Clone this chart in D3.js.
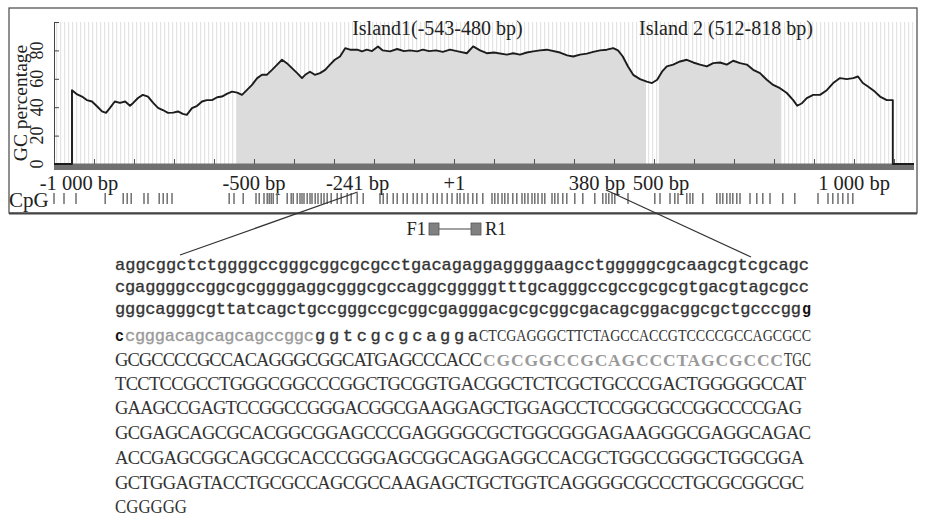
<!DOCTYPE html>
<html>
<head>
<meta charset="UTF-8">
<title>GC content and CpG islands</title>
<script src="https://cdn.jsdelivr.net/npm/d3@7"></script>
<style>
  body { margin: 0; background: #fff; }
  text { font-family: "Liberation Serif", "Times New Roman", serif; fill: #222; }
  .lo { font-family: "Liberation Mono", monospace; font-size: 17px; fill: #333; stroke: #333; stroke-width: 0.35; }
  .lb { font-family: "Liberation Mono", monospace; font-size: 17px; font-weight: bold; fill: #111; }
  .lp { font-family: "Liberation Mono", monospace; font-size: 17px; fill: #9a9a9a; stroke: #9a9a9a; stroke-width: 0.35; }
  .up { font-size: 18.5px; fill: #333; }
  .us { font-size: 16.5px; fill: #333; }
  .pp { font-size: 17.5px; font-weight: bold; fill: #9a9a9a; }
</style>
</head>
<body>
<script>
// GC percentage profile (position in bp, % GC)
const gcBp = [-1000, -955, -955, -942, -930, -918, -905, -892, -880, -870, -860, -848, -835, -822, -810, -802,
  -790, -778, -765, -752, -740, -728, -715, -702, -690, -678, -668, -655, -642, -630, -618, -605, -592, -580,
  -568, -555, -542, -530, -518, -505, -492, -480, -468, -455, -442, -430, -418, -405, -392, -380, -372, -360,
  -348, -335, -322, -310, -298, -285, -272, -260, -242, -230, -218, -205, -190, -178, -160, -142, -125, -110,
  -92, -78, -62, -45, -28, -10, 10, 32, 48, 65, 82, 100, 132, 148, 165, 182, 198, 215, 232, 265, 283, 298,
  315, 332, 348, 365, 382, 398, 410, 422, 435, 448, 465, 482, 495, 508, 520, 532, 548, 565, 582, 598, 615,
  632, 648, 665, 682, 698, 715, 732, 748, 765, 782, 798, 815, 832, 848, 858, 870, 882, 898, 915, 932, 948,
  965, 982, 998, 1010, 1022, 1035, 1052, 1065, 1082, 1097, 1097, 1150];
const gcPct = [0, 0, 52, 49, 47.5, 45, 44, 40.5, 37, 36, 39.5, 44, 43, 44, 41, 43,
  46.5, 48.7, 47.5, 43, 39.5, 38, 36, 36.2, 37, 35.3, 34.6, 39.3, 41, 44, 45, 45, 47, 47.5,
  49.4, 51, 50.3, 48.7, 52, 55.7, 60.5, 62.8, 62.8, 66.3, 70, 73.4, 71, 67.5, 64, 60.5, 62.8, 65,
  62.8, 64, 66.3, 70, 73.4, 75.7, 81.6, 80.5, 80.5, 79.3, 80.5, 79.5, 82.8, 80, 79.3, 81, 79.5, 80,
  79.3, 80.5, 79.5, 80, 79, 80.5, 79.3, 78, 82.8, 80, 78, 78.5, 77, 78, 77, 78.5, 79.3, 80, 80.5, 78.5, 76.5, 75.7,
  77, 77.7, 79, 80, 80.5, 81.6, 80, 75.7, 68.7, 62.8, 59.8, 58, 57, 59.3, 65, 68.7, 70, 72.2, 73.4, 71.5, 70,
  68.7, 71, 71.5, 70, 72.7, 71, 70, 66.3, 64, 59.3, 55.7, 53.4, 50, 45, 41, 42.8, 46.4, 48.7, 48.7, 52, 57,
  60.5, 59.8, 60.5, 61.6, 57, 54.6, 51, 47.5, 45, 45, 0, 0];

// CpG islands
const islandStart = [-543, 512];
const islandEnd = [480, 818];
const islandLabels = ["Island1(-543-480 bp)", "Island 2 (512-818 bp)"];

// axes
const xTicks = [-1000, -900, -800, -700, -600, -500, -400, -300, -200, -100, 0, 100, 200, 300, 400, 500,
  600, 700, 800, 900, 1000, 1100];
const xLabelBp = [-1000, -500, -241, 1, 380, 500, 1000];
const xLabelText = ["-1 000 bp", "-500 bp", "-241 bp", "+1", "380 bp", "500 bp", "1 000 bp"];
const yTicks = [0, 20, 40, 60, 80, 100];
const yLabels = [0, 20, 40, 60, 80];

// CpG dinucleotide positions (bp)
const cpgBp = [-1000, -975, -945, -872, -827, -817, -807, -775, -765, -737, -727, -717, -705,
  -562, -550, -527, -495, -487, -475, -467, -462, -457, -452, -442, -417, -407, -402, -392, -385, -380,
  -375, -367, -360, -355, -347, -340, -332, -325, -317, -307, -292, -282, -267, -257, -242, -227,
  -185, -177, -167, -152, -142, -127, -117, -102, -92, -80, -67, -52, -42, -30, -17, -5, 8, 15, 25, 35,
  47, 57, 72, 95, 102, 110, 120, 127, 135, 147, 157, 170, 177, 185, 195, 202, 210, 220, 227, 245, 252,
  260, 272, 282, 302, 322, 352, 372, 380, 387, 395, 402, 435,
  502, 515, 540, 552, 560, 582, 590, 597, 622, 657, 665, 672, 682, 690, 697, 707, 715, 740, 757, 772,
  790, 822, 852, 910, 935, 947, 960, 972, 985, 997];

// amplified region and primers
const zoomFrom = -241, zoomTo = 380;
const primerNames = ["F1", "R1"];
const primerBp = [-50, 55];

// sequence lines: [text, style]
const seqLines = [
  [["aggcggctctggggccgggcggcgcgcctgacagaggaggggaagcctgggggcgcaagcgtcgcagc", "lo"]],
  [["cgaggggccggcgcggggaggcgggcgccaggcgggggtttgcagggccgccgcgcgtgacgtagcgcc", "lo"]],
  [["gggcagggcgttatcagctgccgggccgcggcgagggacgcgcggcgacagcggacggcgctgcccgg", "lo"], ["g", "lb"]],
  [["c", "lb"], ["cgggacagcagcagccggc", "lp"], ["ggtcgcgcagga", "lo"], ["CTCGAGGGCTTCTAGCCACCGTCCCCGCCAGCGCC", "us"]],
  [["GCGCCCCGCCACAGGGCGGCATGAGCCCACC", "up"], ["CGCGGCCGCAGCCCTAGCGCCC", "pp"], ["TGC", "up"]],
  [["TCCTCCGCCTGGGCGGCCCGGCTGCGGTGACGGCTCTCGCTGCCCGACTGGGGGCCAT", "up"]],
  [["GAAGCCGAGTCCGGCCGGGACGGCGAAGGAGCTGGAGCCTCCGGCGCCGGCCCCGAG", "up"]],
  [["GCGAGCAGCGCACGGCGGAGCCCGAGGGGCGCTGGCGGGAGAAGGGCGAGGCAGAC", "up"]],
  [["ACCGAGCGGCAGCGCACCCGGGAGCGGCAGGAGGCCACGCTGGCCGGGCTGGCGGA", "up"]],
  [["GCTGGAGTACCTGCGCCAGCGCCAAGAGCTGCTGGTCAGGGGCGCCCTGCGCGGCGC", "up"]],
  [["CGGGGG", "up"]]
];

// layout
const W = 925, H = 530;
const segX = [[115], [115], [115, 802], [115, 125, 315, 479], [115, 483, 784], [115], [115], [115], [115], [115], [115]];
const seqEnd = [810, 810, 812, 812, 812, 807, 803, 812, 805, 805, 188];
const seqBase = [270, 292, 314, 341, 366, 390, 414, 439, 464, 489, 513];

const svg = d3.select("body").append("svg")
  .attr("width", W).attr("height", H);

const defs = svg.append("defs");
defs.append("pattern").attr("id", "stripes")
  .attr("patternUnits", "userSpaceOnUse").attr("width", 4).attr("height", 10)
  .append("rect").attr("width", 1.2).attr("height", 10).attr("fill", "#e4e4e4");

const x = d3.scaleLinear().domain([-1000, 1150]).range([54, 914]);
const y = d3.scaleLinear().domain([0, 100]).range([164, 22]);

// frame
svg.append("rect").attr("x", 9).attr("y", 8).attr("width", 908).attr("height", 205)
  .attr("fill", "#fff").attr("stroke", "#555").attr("stroke-width", 1.3);
svg.append("line").attr("x1", 9).attr("x2", 917).attr("y1", 213.5).attr("y2", 213.5)
  .attr("stroke", "#444").attr("stroke-width", 2);

// striped plot background
svg.append("rect").attr("x", x(-1000)).attr("y", y(100))
  .attr("width", x(1150) - x(-1000)).attr("height", y(0) - y(100))
  .attr("fill", "url(#stripes)");

const pts = gcBp.map((b, i) => [b, gcPct[i]]);

// island shading
islandStart.forEach((s, i) => {
  const id = "clip" + i;
  defs.append("clipPath").attr("id", id).append("rect")
    .attr("x", x(s)).attr("y", 0).attr("width", x(islandEnd[i]) - x(s)).attr("height", y(0));
  svg.append("path").datum(pts)
    .attr("clip-path", `url(#${id})`)
    .attr("fill", "#dcdcdc")
    .attr("d", d3.area().x(d => x(d[0])).y0(y(0)).y1(d => y(d[1])));
  svg.append("text")
    .attr("x", x((s + islandEnd[i]) / 2) + (i ? 6 : -4)).attr("y", 35)
    .attr("text-anchor", "middle").attr("font-size", 20)
    .text(islandLabels[i]);
});

// y axis
const yAxis = svg.append("g").attr("transform", `translate(${x(-1000)},0)`)
  .call(d3.axisLeft(y).tickValues(yTicks).tickSizeInner(-5).tickSizeOuter(0).tickFormat(""));
yAxis.select(".domain").attr("stroke", "#444");
yAxis.selectAll(".tick line").attr("stroke", "#444");

svg.append("g").selectAll("text").data(yLabels).join("text")
  .attr("transform", d => `translate(43,${y(d)}) rotate(-90)`)
  .attr("text-anchor", "middle").attr("font-size", 18)
  .text(d => d);
svg.append("text")
  .attr("transform", `translate(27,${(y(0) + y(100)) / 2 + 10}) rotate(-90)`)
  .attr("text-anchor", "middle").attr("font-size", 19.5)
  .text("GC percentage");

// x axis bar
svg.append("rect").attr("x", x(-1000)).attr("y", y(0) - 0.5)
  .attr("width", x(1150) - x(-1000)).attr("height", 6.5).attr("fill", "#707070");
const xAxis = svg.append("g").attr("transform", `translate(0,${y(0)})`)
  .call(d3.axisTop(x).tickValues(xTicks).tickSizeInner(5).tickSizeOuter(0).tickFormat(""));
xAxis.select(".domain").remove();
xAxis.selectAll(".tick line").attr("stroke", "#555");

// GC line
svg.append("path").datum(pts)
  .attr("fill", "none").attr("stroke", "#1c1c1c").attr("stroke-width", 1.9)
  .attr("stroke-linejoin", "round")
  .attr("d", d3.line().x(d => x(d[0])).y(d => y(d[1])));

// x labels
const labelShift = { "-1000": 25, "380": -9, "500": 7 };
svg.append("g").selectAll("text").data(xLabelBp).join("text")
  .attr("x", d => x(d) + (labelShift[d] || 0)).attr("y", 190)
  .attr("text-anchor", "middle").attr("font-size", 20.5)
  .text((d, i) => xLabelText[i]);

// CpG track
svg.append("text").attr("x", 9).attr("y", 207).attr("font-size", 21).text("CpG");
svg.append("g").selectAll("line").data(cpgBp).join("line")
  .attr("x1", d => x(d)).attr("x2", d => x(d))
  .attr("y1", 193).attr("y2", 204)
  .attr("stroke", "#6e6e6e").attr("stroke-width", 1.5);

// lines from the track to the sequence
svg.append("line").attr("x1", x(zoomFrom)).attr("y1", 192).attr("x2", 180).attr("y2", 255)
  .attr("stroke", "#333").attr("stroke-width", 1.2);
svg.append("line").attr("x1", x(zoomTo)).attr("y1", 190).attr("x2", 751).attr("y2", 257)
  .attr("stroke", "#333").attr("stroke-width", 1.2);

// primers
const py = 229;
svg.append("line").attr("x1", x(primerBp[0])).attr("x2", x(primerBp[1]))
  .attr("y1", py).attr("y2", py).attr("stroke", "#444").attr("stroke-width", 1.2);
primerBp.forEach((b, i) => {
  svg.append("rect").attr("x", x(b) - 5).attr("y", py - 6).attr("width", 10).attr("height", 12)
    .attr("fill", "#808080").attr("stroke", "#555").attr("stroke-width", 0.8);
  svg.append("text")
    .attr("x", i === 0 ? x(b) - 8 : x(b) + 9).attr("y", py + 6)
    .attr("text-anchor", i === 0 ? "end" : "start").attr("font-size", 18.5)
    .text(primerNames[i]);
});

// sequence: each segment fitted between its start and the next one
seqLines.forEach((segs, i) => {
  segs.forEach((s, j) => {
    const x0 = segX[i][j];
    const x1 = j + 1 < segs.length ? segX[i][j + 1] : seqEnd[i];
    const t = svg.append("text").attr("class", s[1])
      .attr("x", x0).attr("y", seqBase[i])
      .text(s[0]);
    const want = x1 - x0 - 1;
    const natural = t.node().getComputedTextLength();
    // squeeze glyphs when the text is too wide, otherwise only open up the spacing
    t.attr("textLength", want)
      .attr("lengthAdjust", natural > want * 1.08 ? "spacingAndGlyphs" : "spacing");
  });
});
</script>
</body>
</html>
